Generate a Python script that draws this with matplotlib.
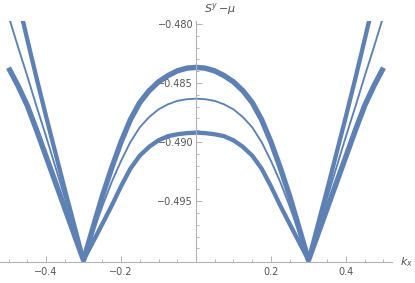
"""
S^y - mu vs k_x, three bands touching at k_x = +-0.3
"""
import matplotlib
matplotlib.use('Agg')
import matplotlib.pyplot as plt
from matplotlib.ticker import FixedLocator, FuncFormatter

# k_x grid (step 0.025)
k_x = [-0.5, -0.475, -0.45, -0.425, -0.4, -0.375, -0.35, -0.325, -0.3,
       -0.275, -0.25, -0.225, -0.2, -0.175, -0.15, -0.125, -0.1, -0.075, -0.05, -0.025,
       0.0,
       0.025, 0.05, 0.075, 0.1, 0.125, 0.15, 0.175, 0.2, 0.225, 0.25, 0.275,
       0.3, 0.325, 0.35, 0.375, 0.4, 0.425, 0.45, 0.475, 0.5]

# upper thick band
band_1 = [-0.4837, -0.4852, -0.4869, -0.4890, -0.4912, -0.4934, -0.4956, -0.4978, -0.5,
          -0.49730, -0.49460, -0.49220, -0.49000, -0.48810, -0.48665, -0.48565,
          -0.48490, -0.48437, -0.48397, -0.48374,
          -0.48367,
          -0.48374, -0.48397, -0.48437, -0.48490, -0.48565, -0.48665, -0.48810,
          -0.49000, -0.49220, -0.49460, -0.49730,
          -0.5, -0.4978, -0.4956, -0.4934, -0.4912, -0.4890, -0.4869, -0.4852, -0.4837]

# thin middle band
band_2 = [-0.4793, -0.4819, -0.4844, -0.4870, -0.4895, -0.4921, -0.4947, -0.4974, -0.5,
          -0.49768, -0.49545, -0.49340, -0.49160, -0.49000, -0.48875, -0.48788,
          -0.48723, -0.48680, -0.48651, -0.48637,
          -0.48632,
          -0.48637, -0.48651, -0.48680, -0.48723, -0.48788, -0.48875, -0.49000,
          -0.49160, -0.49340, -0.49545, -0.49768,
          -0.5, -0.4974, -0.4947, -0.4921, -0.4895, -0.4870, -0.4844, -0.4819, -0.4793]

# lower thick band
band_3 = [-0.4745, -0.4779, -0.4813, -0.4846, -0.4878, -0.4909, -0.4940, -0.4970, -0.5,
          -0.49848, -0.49695, -0.49540, -0.49375, -0.49225, -0.49115, -0.49040,
          -0.48985, -0.48950, -0.48934, -0.48924,
          -0.48920,
          -0.48924, -0.48934, -0.48950, -0.48985, -0.49040, -0.49115, -0.49225,
          -0.49375, -0.49540, -0.49695, -0.49848,
          -0.5, -0.4970, -0.4940, -0.4909, -0.4878, -0.4846, -0.4813, -0.4779, -0.4745]

y_ticks = [-0.480, -0.485, -0.490, -0.495]
x_ticks = [-0.4, -0.2, 0.2, 0.4]

line_color = '#5E81B5'
axis_color = '#b3b3b3'
label_color = '#555555'

fig = plt.figure(figsize=(4.15, 2.83), dpi=100)
ax = fig.add_axes([0.0, 0.0725, 392 / 415, 0.855])
ax.set_xlim(-0.5227, 0.5227)
ax.set_ylim(-0.5002, -0.4797)

ax.plot(k_x, band_1, color=line_color, lw=3.9, solid_capstyle='butt')
ax.plot(k_x, band_2, color=line_color, lw=1.35, solid_capstyle='butt')
ax.plot(k_x, band_3, color=line_color, lw=3.1, solid_capstyle='butt')

# Mathematica-like axes
for side in ['top', 'right']:
    ax.spines[side].set_visible(False)
ax.spines['left'].set_position(('data', 0))
ax.spines['left'].set_color(axis_color)
ax.spines['bottom'].set_color(axis_color)
ax.spines['left'].set_linewidth(0.8)
ax.spines['bottom'].set_linewidth(0.8)

ax.xaxis.set_major_locator(FixedLocator(x_ticks))
ax.xaxis.set_minor_locator(FixedLocator([i * 0.05 for i in range(-10, 11)]))
ax.yaxis.set_major_locator(FixedLocator(y_ticks))
ax.yaxis.set_minor_locator(FixedLocator([-0.5 + i * 0.001 for i in range(1, 21)]))

ax.xaxis.set_major_formatter(FuncFormatter(lambda v, p: f'{v:.1f}'.replace('-', '\u2212')))
ax.yaxis.set_major_formatter(FuncFormatter(lambda v, p: f'{v:.3f}'.replace('-', '\u2212')))

ax.tick_params(which='both', direction='in', color=axis_color, width=0.7)
ax.tick_params(which='major', length=4, labelsize=7, labelcolor=label_color)
ax.tick_params(which='minor', length=2.3)
ax.tick_params(axis='x', which='major', pad=3)
ax.tick_params(axis='y', which='major', pad=2)

ax.text(0.022, 1.015, r'$S^y\,\mathregular{-}\mu$', transform=ax.get_xaxis_transform(),
        ha='left', va='bottom', fontsize=8, color=label_color)
ax.text(1.02, -0.5002, r'$k_x$', transform=ax.get_yaxis_transform(),
        ha='left', va='center', fontsize=8, color=label_color, clip_on=False)

fig.savefig('out.png', dpi=100, facecolor='white')
